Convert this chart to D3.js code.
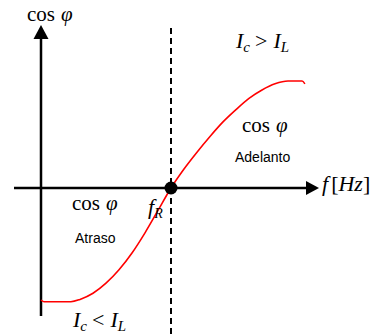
<!DOCTYPE html>
<html>
<head>
<meta charset="utf-8">
<script src="https://cdn.jsdelivr.net/npm/d3@7"></script>
<style>
  html, body { margin: 0; padding: 0; background: #fff; }
  svg { display: block; }
  .math { font-family: "Liberation Serif", "DejaVu Serif", serif; }
  .note { font-family: "Liberation Sans", Arial, sans-serif; font-size: 14px; }
</style>
</head>
<body>
<svg id="chart" width="386" height="336"></svg>
<script>
// Frequency (arbitrary units) and power factor along the resonance curve
const freq   = [0, 0.12, 1.15, 1.5, 2.0, 2.5, 3.0, 3.5, 4.0, 4.5, 5.0, 5.5, 6.0, 6.5, 7.0, 7.5, 8.0, 8.5, 9.0, 9.5, 10.04, 10.15];
const cosPhi = [-1.0, -1.015, -1.015, -0.995, -0.94, -0.85, -0.73, -0.58, -0.40, -0.20, 0, 0.17, 0.32, 0.46, 0.59, 0.70, 0.80, 0.875, 0.93, 0.955, 0.955, 0.93];
const resonanceFreq = [5];

const svg = d3.select("#chart");
const x = d3.scaleLinear().domain([0, 10]).range([41, 301]);
const y = d3.scaleLinear().domain([-1, 1]).range([300, 76]);

// Dashed vertical line at the resonance frequency
svg.append("line")
  .attr("x1", x(resonanceFreq[0])).attr("x2", x(resonanceFreq[0]))
  .attr("y1", 28).attr("y2", 336)
  .attr("stroke", "#000").attr("stroke-width", 2)
  .attr("stroke-dasharray", "6,4");

// Horizontal axis with arrowhead
const axisY = y(0);
svg.append("line")
  .attr("x1", 14).attr("x2", 308)
  .attr("y1", axisY).attr("y2", axisY)
  .attr("stroke", "#000").attr("stroke-width", 2.5);
svg.append("path")
  .attr("d", `M${306},${axisY - 7} L${319},${axisY} L${306},${axisY + 7} Z`)
  .attr("fill", "#000");

// Vertical axis with arrowhead
const axisX = x(0);
svg.append("line")
  .attr("x1", axisX).attr("x2", axisX)
  .attr("y1", 38).attr("y2", 316)
  .attr("stroke", "#000").attr("stroke-width", 2.5);
svg.append("path")
  .attr("d", `M${axisX - 7.5},${39} L${axisX},${25} L${axisX + 7.5},${39} Z`)
  .attr("fill", "#000");

// Power factor curve
const line = d3.line()
  .x((d, i) => x(freq[i]))
  .y((d, i) => y(cosPhi[i]))
  .curve(d3.curveMonotoneX);
svg.append("path")
  .datum(freq)
  .attr("d", line)
  .attr("fill", "none")
  .attr("stroke", "#ff0000")
  .attr("stroke-width", 1.6);

// Resonance point
svg.append("circle")
  .attr("cx", x(resonanceFreq[0])).attr("cy", y(0))
  .attr("r", 6.5).attr("fill", "#000");

// Labels
function cosLabel(px, py) {
  const t = svg.append("text").attr("class", "math")
    .attr("x", px).attr("y", py).attr("font-size", 21);
  t.append("tspan").text("cos");
  t.append("tspan").attr("dx", 6).attr("font-style", "italic").text("φ");
}
cosLabel(27, 21);
cosLabel(242, 132);
cosLabel(72, 210);

svg.append("text").attr("class", "note").attr("x", 235).attr("y", 162).text("Adelanto");
svg.append("text").attr("class", "note").attr("x", 75).attr("y", 243).text("Atraso");

function currentLabel(px, py, sym) {
  const t = svg.append("text").attr("class", "math")
    .attr("x", px).attr("y", py).attr("font-size", 22).attr("font-style", "italic");
  t.append("tspan").text("I");
  t.append("tspan").attr("dy", 4).attr("font-size", 15).text("c");
  t.append("tspan").attr("dy", -4).attr("dx", 5).attr("font-style", "normal").text(sym);
  t.append("tspan").attr("dx", 6).text("I");
  t.append("tspan").attr("dy", 4).attr("font-size", 15).text("L");
}
currentLabel(236, 48, ">");
currentLabel(73, 327, "<");

// Frequency axis label
const fl = svg.append("text").attr("class", "math")
  .attr("x", 322).attr("y", 191).attr("font-size", 22);
fl.append("tspan").attr("font-style", "italic").text("f");
fl.append("tspan").attr("dx", 3).text("[");
fl.append("tspan").attr("font-style", "italic").text("Hz");
fl.append("tspan").text("]");

// Resonance frequency label
const fr = svg.append("text").attr("class", "math")
  .attr("x", 148).attr("y", 214).attr("font-size", 22).attr("font-style", "italic");
fr.append("tspan").text("f");
fr.append("tspan").attr("dy", 4).attr("font-size", 14).text("R");
</script>
</body>
</html>
